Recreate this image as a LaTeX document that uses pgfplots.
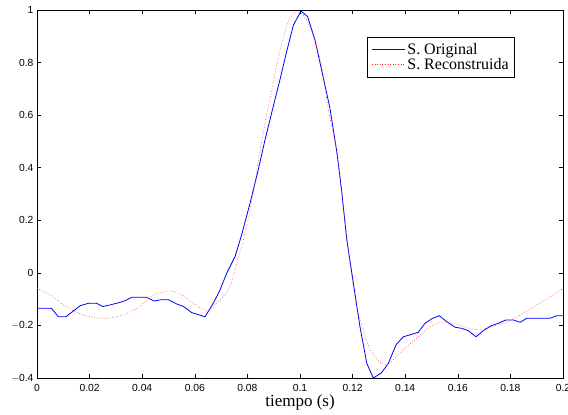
\documentclass[border=0pt]{standalone}
\usepackage{fontspec}
\setmainfont{Liberation Serif}
\setsansfont{Liberation Sans}
\usepackage{pgfplots}
\pgfplotsset{compat=1.18}
\begin{document}
\begin{tikzpicture}
\begin{axis}[
  scale only axis,
  width=526pt, height=368pt,
  xmin=0, xmax=0.2, ymin=-0.4, ymax=1,
  xtick={0,0.02,...,0.2}, ytick={-0.4,-0.2,...,1},
  xticklabels={0,0.02,0.04,0.06,0.08,0.1,0.12,0.14,0.16,0.18,0.2},
  yticklabels={$-$0.4,$-$0.2,0,0.2,0.4,0.6,0.8,1},
  tick align=inside, tick pos=both,
  major tick length=4pt,
  tick style={black, line width=0.5pt},
  axis line style={black, line width=0.9pt},
  ticklabel style={font=\sffamily\fontsize{10.3}{12}\selectfont},
  xticklabel style={yshift=-3pt},
  xlabel={tiempo (s)},
  xlabel style={font=\fontsize{17}{19}\selectfont, yshift=3.5pt},
  legend style={at={(0.9087,0.9266)}, anchor=north east, draw=black, line width=0.6pt,
    font=\fontsize{16}{18}\selectfont, row sep=-1.5pt, inner xsep=4pt, inner ysep=4pt,
    legend cell align=left},
  legend image code/.code={\draw[#1, line width=0.8pt] (0cm,0cm) -- (33pt,0cm);},
]
\addplot[color={rgb,255:red,0;green,0;blue,255}, line width=0.8pt] coordinates {
(0,-0.135) (0.0055,-0.135) (0.0081,-0.167) (0.011,-0.167) (0.0164,-0.125)
(0.0195,-0.116) (0.0227,-0.116) (0.025,-0.128) (0.0278,-0.122) (0.031,-0.114)
(0.0335,-0.106) (0.036,-0.093) (0.0417,-0.093) (0.0445,-0.107) (0.0474,-0.102)
(0.05,-0.102) (0.053,-0.118) (0.0557,-0.128) (0.0588,-0.151) (0.0639,-0.167)
(0.067,-0.116) (0.0696,-0.065) (0.0721,-0.002) (0.0734,0.024) (0.0753,0.062)
(0.0778,0.144) (0.081,0.265) (0.0841,0.391) (0.0867,0.506) (0.09,0.64)
(0.0925,0.74) (0.095,0.845) (0.0975,0.943) (0.1004,0.996) (0.1029,0.975)
(0.1057,0.886) (0.1114,0.626) (0.114,0.46) (0.1158,0.315) (0.1178,0.125)
(0.1203,-0.04) (0.1228,-0.205) (0.1254,-0.344) (0.1279,-0.40) (0.131,-0.38)
(0.1336,-0.344) (0.1365,-0.274) (0.1393,-0.243) (0.1418,-0.236) (0.145,-0.226)
(0.1475,-0.192) (0.1504,-0.173) (0.153,-0.163) (0.1558,-0.186) (0.159,-0.207)
(0.1615,-0.211) (0.164,-0.22) (0.1669,-0.243) (0.1697,-0.22) (0.1725,-0.202)
(0.1754,-0.192) (0.1783,-0.179) (0.1811,-0.179) (0.1837,-0.188) (0.1862,-0.173)
(0.195,-0.173) (0.1976,-0.163) (0.2,-0.163)
};
\addlegendentry{S. Original}
\addplot[red!85!white, dotted, line width=0.6pt, smooth] coordinates {
(0,-0.059) (0.005,-0.084) (0.01,-0.122) (0.0164,-0.156) (0.0215,-0.17)
(0.0265,-0.173) (0.0328,-0.16) (0.039,-0.128) (0.0442,-0.084) (0.05,-0.069)
(0.0544,-0.08) (0.0594,-0.116) (0.0645,-0.144) (0.0683,-0.116) (0.0731,-0.059)
(0.0759,0.036) (0.0791,0.15) (0.0822,0.303) (0.0854,0.50) (0.0924,0.848)
(0.0962,0.969) (0.0994,0.994) (0.1025,0.962) (0.1051,0.899) (0.1083,0.784)
(0.1108,0.62) (0.114,0.46) (0.1165,0.252) (0.119,0.036) (0.1216,-0.128)
(0.1254,-0.26) (0.1279,-0.31) (0.1304,-0.34) (0.133,-0.35) (0.136,-0.325)
(0.1393,-0.293) (0.145,-0.243) (0.1494,-0.205) (0.1539,-0.188) (0.159,-0.194)
(0.1659,-0.215) (0.171,-0.211) (0.1786,-0.186) (0.1837,-0.16) (0.19,-0.122)
(0.1963,-0.084) (0.2,-0.059)
};
\addlegendentry{S. Reconstruida}
\end{axis}
\pgfresetboundingbox
\path[use as bounding box] (current axis.south west) ++(-37pt,-37pt) rectangle ([shift={(5pt,10pt)}]current axis.north east);
\end{tikzpicture}
\end{document}
